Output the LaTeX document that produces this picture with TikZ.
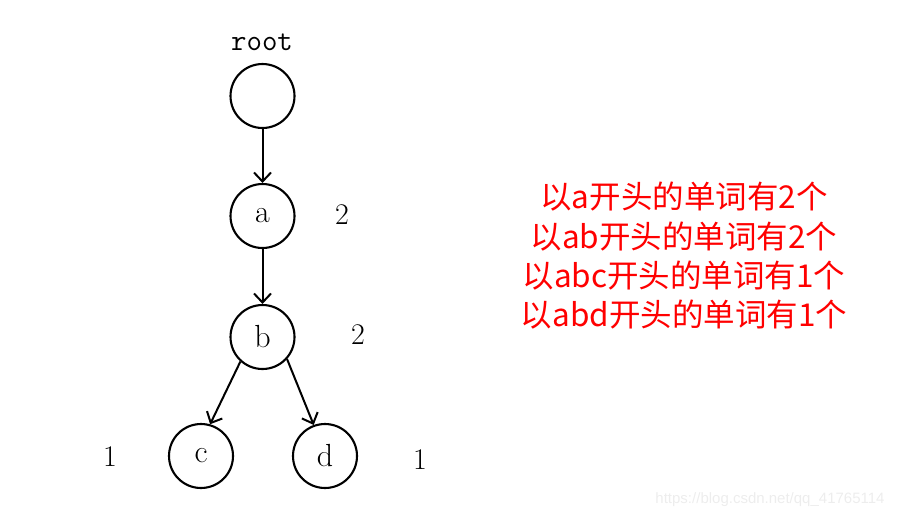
\documentclass[tikz,border=0pt]{standalone}
\usepackage{fontspec}
\newfontfamily\cjk{Noto Sans CJK SC}
\newfontfamily\wmfont{Liberation Sans}
\usetikzlibrary{arrows.meta}
\begin{document}
\begin{tikzpicture}[x=1pt,y=-1pt,
  trienode/.style={circle,draw,line width=2.1pt,minimum size=64pt,inner sep=0pt,font=\fontsize{32}{36}\selectfont},
  cnt/.style={font=\fontsize{30}{34}\selectfont},
  edge/.style={line width=2pt,-{Straight Barb[length=9pt,width=17pt,line width=2pt]}},
  note/.style={text=red,font=\cjk\fontsize{31.5}{36}\selectfont}]
\useasboundingbox (0,0) rectangle (901,520);
\node[trienode] (root) at (262.5,96) {};
\node[font=\ttfamily\fontsize{30}{34}\selectfont,anchor=base] (rl) at (262,50) {root};
\node[trienode] (a) at (262.5,216) {a};
\node[trienode] (b) at (262.5,337) {b};
\node[trienode] (c) at (201,456) {c};
\node[trienode] (d) at (325,456) {d};
\draw[edge] (root) -- (a);
\draw[edge] (a) -- (b);
\draw[edge] (b.228) -- (c.74);
\draw[edge] (b.318) -- (d.110);
\node[cnt] (na) at (342,215) {2};
\node[cnt] (nb) at (358,335) {2};
\node[cnt] (nc) at (110,457) {1};
\node[cnt] (nd) at (420,460) {1};
\node[note] (l1) at (684,197) {以a开头的单词有2个};
\node[note] (l2) at (684,237) {以ab开头的单词有2个};
\node[note] (l3) at (684,276) {以abc开头的单词有1个};
\node[note] (l4) at (684,315) {以abd开头的单词有1个};
\node[text=black!7,font=\wmfont\fontsize{15}{18}\selectfont] (wm) at (770,500) {https://blog.csdn.net/qq\_41765114};
\end{tikzpicture}
\end{document}
